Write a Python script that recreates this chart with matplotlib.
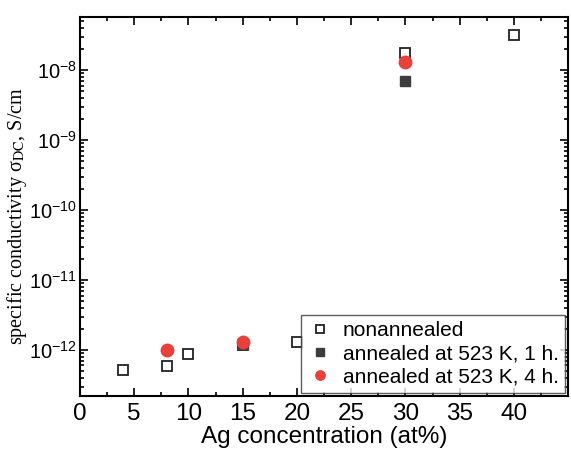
import matplotlib
matplotlib.use("Agg")
import matplotlib.pyplot as plt
from matplotlib.ticker import LogLocator, MultipleLocator, NullFormatter, FuncFormatter
import numpy as np

plt.rcParams['font.family'] = ['Liberation Sans', 'DejaVu Sans']
plt.rcParams['mathtext.fontset'] = 'stix'
plt.rcParams['axes.unicode_minus'] = False

# nonannealed
x_non = [4, 8, 10, 15, 20, 30, 40]
y_non = [5.2e-13, 5.9e-13, 8.8e-13, 1.18e-12, 1.3e-12, 1.75e-8, 3.2e-8]
# annealed at 523 K, 1 h
x_1h = [15, 30]
y_1h = [1.2e-12, 7.0e-9]
# annealed at 523 K, 4 h
x_4h = [8, 15, 30]
y_4h = [1.0e-12, 1.3e-12, 1.31e-8]

fig = plt.figure(figsize=(5.71, 4.59), dpi=100)
ax = fig.add_axes([0.14, 0.137, 0.855, 0.826])

ax.plot(x_non, y_non, linestyle='none', marker='s', ms=7, mfc='white',
        mec='#222222', mew=1.3, label='nonannealed')
ax.plot(x_1h, y_1h, linestyle='none', marker='s', ms=7, color='#3c3c3c',
        label='annealed at 523 K, 1 h.')
ax.plot(x_4h, y_4h, linestyle='none', marker='o', ms=9, color='#e8403a',
        label='annealed at 523 K, 4 h.')

ax.set_yscale('log')
ax.set_xlim(0, 45)
ax.set_ylim(10 ** -12.66, 10 ** -7.24)
ax.set_xticks([0, 5, 10, 15, 20, 25, 30, 35, 40])
ax.xaxis.set_minor_locator(MultipleLocator(2.5))
ax.yaxis.set_major_locator(LogLocator(base=10, numticks=20))
ax.yaxis.set_minor_locator(LogLocator(base=10, subs=range(2, 10), numticks=20))
ax.yaxis.set_minor_formatter(NullFormatter())


def decade(v, pos):
    e = int(round(np.log10(v)))
    return r'$\mathdefault{10^{%d}}$' % e


ax.yaxis.set_major_formatter(FuncFormatter(decade))

ax.tick_params(which='both', direction='in', top=True, right=True, width=1.2)
ax.tick_params(which='major', length=6)
ax.tick_params(which='minor', length=3)
ax.tick_params(axis='x', labelsize=17.5, pad=5)
ax.tick_params(axis='y', labelsize=14.5, pad=2)
for s in ax.spines.values():
    s.set_linewidth(1.5)

ax.set_xlabel('Ag concentration (at%)', fontsize=17.5, labelpad=1)
ax.set_ylabel('specific conductivity σ$_{\\mathrm{DC}}$, S/cm', fontsize=14.5,
              family='Liberation Serif')
ax.yaxis.set_label_coords(-0.105, 0.475)

leg = ax.legend(loc='lower right', fontsize=15, frameon=True, fancybox=False,
                borderaxespad=0.15, handletextpad=0.5, handlelength=1.2,
                labelspacing=0.2, borderpad=0.3, markerscale=0.75)
leg.get_frame().set_edgecolor('#333333')
leg.get_frame().set_linewidth(1.0)

fig.savefig('out.png', dpi=100)
